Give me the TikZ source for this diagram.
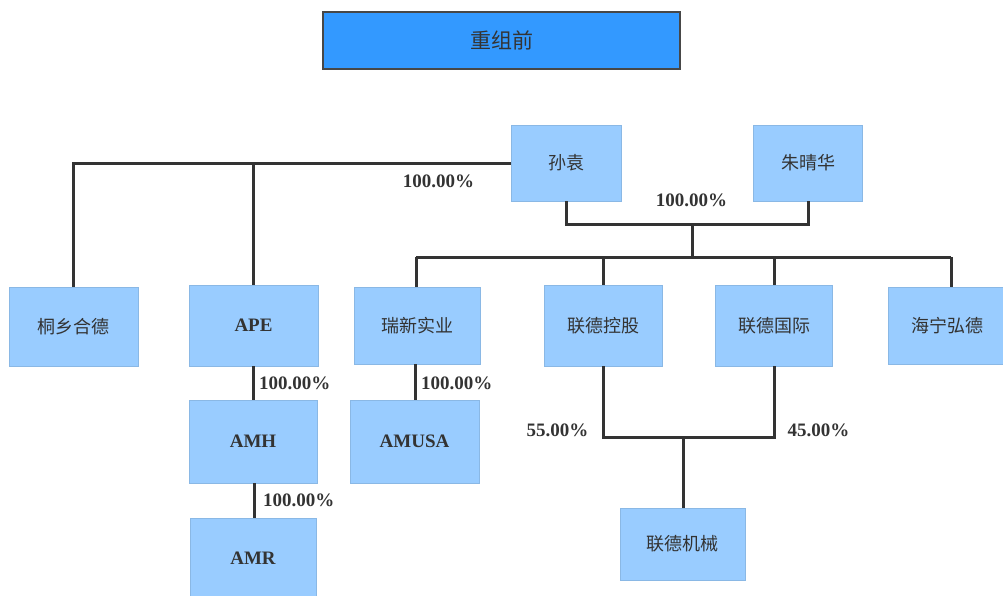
\documentclass[tikz,border=0pt]{standalone}
\usepackage{fontspec}
\setmainfont{Liberation Serif}
\newfontfamily\cjk{Noto Sans CJK SC}
\definecolor{boxfill}{HTML}{99CCFF}
\definecolor{titlefill}{HTML}{3399FF}
\definecolor{ink}{HTML}{333333}
\begin{document}
\begin{tikzpicture}[x=1pt,y=-1pt,
  box/.style={fill=boxfill, draw=boxfill!90!black, line width=0.4pt, minimum width=#1, text=ink, font=\cjk\fontsize{18}{20}\selectfont},
  lat/.style={font=\bfseries\fontsize{19}{21}\selectfont},
  link/.style={draw=ink, line width=3pt},
  pct/.style={text=ink, font=\bfseries\fontsize{19}{21}\selectfont, inner sep=0pt}]
\useasboundingbox (0,0) rectangle (1003,595);
% title
\node[draw=ink!90, line width=2pt, fill=titlefill, text=ink, minimum width=357pt, minimum height=57pt, font=\cjk\fontsize{21}{23}\selectfont] (title) at (501.5,40.5) {重组前};
% boxes
\node[box=110pt, minimum height=76pt] (sun) at (566,163) {孙袁};
\node[box=109pt, minimum height=76pt] (zhu) at (808,163) {朱晴华};
\node[box=129pt, minimum height=79pt] (tx) at (73.5,326.5) {桐乡合德};
\node[box=129pt, minimum height=81pt, lat] (ape) at (253.5,325.5) {APE};
\node[box=126pt, minimum height=77pt] (rx) at (417,325.5) {瑞新实业};
\node[box=118pt, minimum height=81pt] (ldk) at (603,325.5) {联德控股};
\node[box=117pt, minimum height=81pt] (ldg) at (774,325.5) {联德国际};
\node[box=118pt, minimum height=77pt] (hn) at (947,325.5) {海宁弘德};
\node[box=128pt, minimum height=83pt, lat] (amh) at (253,441.5) {AMH};
\node[box=129pt, minimum height=83pt, lat] (amusa) at (414.5,441.5) {AMUSA};
\node[box=126pt, minimum height=80pt, lat] (amr) at (253,558) {AMR};
\node[box=125pt, minimum height=72pt] (ldj) at (682.5,544) {联德机械};
% coordinates
\coordinate (c1) at (73,163);
\coordinate (c2) at (253,163);
\coordinate (j1) at (566,224);
\coordinate (j2) at (808,224);
\coordinate (jm) at (692,224);
\coordinate (b0) at (692,257);
\coordinate (bL) at (416,257);
\coordinate (bR) at (951,257);
\coordinate (k1) at (603,437);
\coordinate (k2) at (774,437);
\coordinate (km) at (683,437);
% connectors
\draw[link] (sun.west) -- (c1) -- (tx.north -| c1);
\draw[link] (c2) -- (ape.north -| c2);
\draw[link] (sun.south) -- (j1) -- (j2) -- (zhu.south);
\draw[link] (jm) -- (b0);
\draw[link] (bL) -- (bR);
\draw[link] (bL) -- (rx.north -| bL);
\draw[link] (ldk.north |- b0) -- (ldk.north);
\draw[link] (ldg.north |- b0) -- (ldg.north);
\draw[link] (bR) -- (hn.north -| bR);
\draw[link] (ape.south) -- (amh.north -| ape.south);
\draw[link] (amh.south -| 254,0) -- (amr.north -| 254,0);
\draw[link] (rx.south -| 415,0) -- (amusa.north -| 415,0);
\draw[link] (ldk.south) -- (k1) -- (k2) -- (ldg.south);
\draw[link] (km) -- (ldj.north -| km);
% labels
\node[pct] (p1) at (438.5,181) {100.00\%};
\node[pct] (p2) at (691.5,200) {100.00\%};
\node[pct, anchor=west] (p3) at (259,383) {100.00\%};
\node[pct, anchor=west] (p4) at (263,500) {100.00\%};
\node[pct, anchor=west] (p5) at (421,383) {100.00\%};
\node[pct] (p6) at (557.5,430) {55.00\%};
\node[pct] (p7) at (818.5,430) {45.00\%};
\end{tikzpicture}
\end{document}
